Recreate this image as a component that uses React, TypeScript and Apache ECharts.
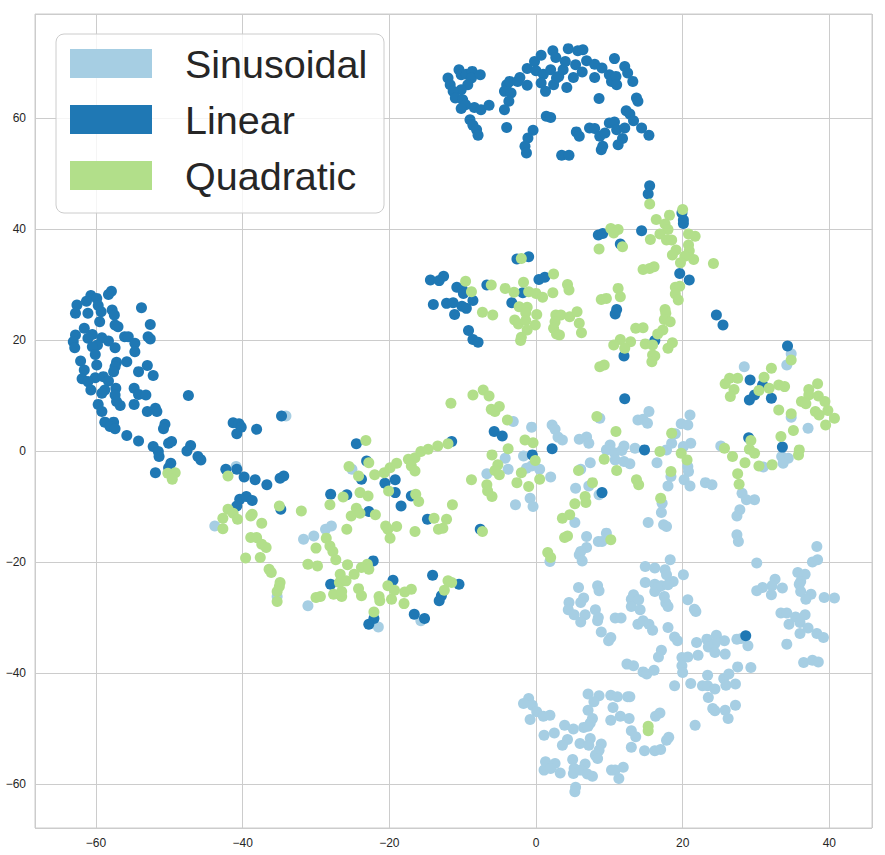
import React, { useEffect, useRef } from "react";
import * as echarts from "echarts";

const seriesNames = ["Sinusoidal", "Linear", "Quadratic"];
const seriesColors = ["#a6cee3", "#1f78b4", "#b2df8a"];

const sinusoidal: number[][] = [
  [-34.1,6.3],[-40.9,-2.8],[-43.8,-13.5],[-31.7,-15.9],[-30.3,-15.3],[-28.7,-14.1],[-27.9,-13.5],[-35.3,-26.2],[-31.1,-27.9],
  [-25.1,-3.3],[-15.7,-30.6],[-21.5,-31.7],
  [-3.1,5.3],[-0.6,4.3],[2.2,4.7],[2.6,3.9],[3.0,2.5],[3.6,2.0],[5.9,2.1],[6.9,2.5],[7.2,1.4],[-4.2,-1.3],[-1.7,-0.9],[-3.8,-3.3],[-6.7,-4.1],[-1.3,-3.1],[-0.6,-2.7],[0.5,-3.3],[2.0,-4.7],[5.4,-6.7],[6.1,-3.3],[7.4,-2.1],[8.7,5.9],[10.1,1.1],[9.6,0.2],[10.7,-0.3],[11.7,0.1],[12.0,0.9],[10.8,-1.6],[12.0,-1.9],[12.8,-2.3],[13.5,0.5],[13.9,5.6],[14.6,5.7],[15.2,5.0],[15.4,7.1],[16.5,-2.1],[17.8,0.2],[18.5,1.4],[18.4,-4.6],[18.0,-6.3],[7.2,-6.3],[8.6,-7.9],[-0.8,-8.5],
  [34.8,17.5],[34.2,15.5],[28.4,15.2],[34.8,6.1],[37.1,4.1],[21.0,6.5],[19.8,4.9],[20.7,4.7],[19.0,3.1],[21.1,1.4],[20.1,0.8],[25.2,0.9],[31.0,-2.9],[33.5,-1.0],[34.4,-1.3],[33.7,-2.2],[20.7,-2.8],[20.8,-3.7],[20.2,-5.2],[21.0,-6.3],[23.1,-5.7],[24.0,-6.1],[28.1,-7.6],[29.8,-8.8],[28.7,-8.8],
  [-2.8,-9.7],[-0.4,-10.0],[5.3,-12.9],[6.9,-15.4],[9.6,-14.8],[8.5,-16.3],[9.0,-16.3],[6.9,-17.4],[6.1,-18.1],[5.9,-18.7],[6.3,-19.8],[1.9,-19.9],[17.2,-9.4],[17.1,-11.1],[15.3,-12.9],[17.4,-13.3],[17.8,-13.6],[18.3,-19.6],[14.9,-20.8],[16.2,-21.1],[17.6,-21.4],[17.8,-22.3],[18.7,-23.5],[14.9,-23.7],[16.2,-24.0],[16.6,-24.6],[16.2,-25.3],[17.1,-24.3],[18.0,-24.1],[5.8,-24.6],[8.4,-24.3],[8.6,-25.2],[6.5,-26.5],[6.1,-27.3],[4.5,-27.3],[4.4,-28.6],[5.2,-29.5],[6.7,-29.5],[8.1,-28.6],[8.5,-30.0],[8.4,-30.6],[6.1,-30.8],[10.8,-30.1],[11.6,-30.1],[8.9,-32.6],[10.2,-33.6],[9.9,-34.2],[13.0,-26.7],[13.3,-25.9],[14.0,-26.8],[13.0,-28.0],[14.2,-28.6],[17.5,-26.2],[17.7,-27.4],[18.0,-28.0],[13.9,-31.2],[14.6,-30.6],[15.4,-31.2],[15.9,-32.3],[18.0,-31.8],[18.9,-33.5],[17.1,-35.9],
  [27.8,-10.6],[27.4,-11.7],[27.4,-15.1],[27.6,-16.3],[30.1,-20.2],[38.3,-17.2],[37.7,-20.0],[38.4,-19.6],[20.1,-22.3],[32.6,-23.1],[32.2,-24.3],[33.6,-24.7],[30.9,-24.6],[30.1,-25.2],[32.1,-25.9],[35.7,-21.9],[36.7,-22.2],[36.1,-23.5],[35.9,-24.0],[36.1,-25.3],[37.5,-25.8],[36.8,-26.7],[39.3,-26.4],[40.7,-26.5],[20.7,-26.8],[21.6,-28.5],[21.8,-28.9],[33.4,-29.2],[34.2,-29.2],[35.4,-29.9],[36.7,-29.5],[36.0,-30.9],[34.5,-31.2],[37.1,-31.9],[36.0,-32.9],[38.3,-32.9],[39.2,-33.6],[19.3,-34.2],[21.9,-34.5],[23.3,-33.9],[24.6,-33.2],[25.7,-34.2],[24.4,-34.7],[23.5,-35.3],[27.4,-33.9],[28.0,-33.8],[28.9,-35.1],[34.2,-34.8],
  [16.7,-37.1],[12.4,-38.4],[13.3,-38.7],[14.6,-39.8],[15.1,-40.2],[16.1,-39.5],[18.9,-42.3],[7.1,-43.8],[8.6,-44.1],[7.9,-45.2],[10.2,-44.0],[11.1,-44.3],[12.5,-44.3],[12.8,-44.3],[-1.0,-44.6],[-1.7,-45.5],[-0.5,-45.8],[0.1,-47.0],[1.0,-47.8],[1.9,-47.6],[-0.8,-48.4],[7.1,-46.7],[7.7,-48.2],[7.4,-49.0],[10.5,-46.2],[11.5,-47.8],[10.2,-48.5],[12.7,-48.2],[16.3,-47.8],[16.9,-47.2],[3.9,-49.4],[5.1,-50.1],[6.5,-49.8],[7.1,-49.6],[2.5,-50.8],[1.1,-51.2],[4.3,-52.0],[3.6,-53.0],[6.0,-52.7],[7.4,-51.8],[7.2,-53.0],[13.0,-50.4],[13.6,-51.5],[8.9,-52.8],[8.6,-53.9],[8.1,-54.8],[8.4,-55.4],[13.0,-53.4],[14.8,-54.0],[16.2,-54.0],[17.0,-53.8],[17.8,-52.1],[18.1,-51.6],[1.3,-56.0],[2.6,-56.3],[1.1,-57.5],[2.0,-57.2],[3.3,-58.0],[5.0,-55.6],[5.2,-57.2],[5.1,-58.1],[6.7,-56.4],[6.1,-57.5],[7.0,-58.2],[7.7,-58.6],[10.3,-57.5],[10.8,-57.5],[11.9,-57.0],[11.3,-59.0],[5.4,-60.6],[5.3,-61.4],
  [19.9,-37.2],[20.7,-37.1],[22.1,-36.8],[24.4,-36.3],[25.8,-36.6],[19.9,-38.7],[20.0,-39.9],[21.1,-41.9],[23.4,-40.4],[22.7,-42.3],[23.4,-42.3],[24.4,-42.9],[25.6,-41.0],[26.3,-40.2],[25.9,-42.2],[27.2,-42.0],[27.5,-38.9],[29.3,-39.0],[23.5,-44.4],[24.1,-46.4],[24.4,-46.8],[25.8,-46.7],[27.2,-45.8],[26.2,-48.2],[21.7,-49.4],[36.5,-38.1],[37.7,-37.7],[38.5,-38.0],
];

const linear: number[][] = [
  [-12.0,67.2],[-11.7,66.0],[-10.5,68.7],[-10.2,67.8],[-9.5,67.9],[-8.7,68.4],[-8.8,67.2],[-7.6,67.8],[-9.3,66.0],[-10.2,65.1],[-11.3,64.8],[-11.0,63.6],[-10.0,63.3],[-9.6,62.4],[-10.2,61.7],[-8.4,61.9],[-7.5,61.5],[-6.4,62.3],[-9.0,59.7],[-8.6,58.7],[-8.1,57.9],[-7.9,56.9],
  [-4.0,66.0],[-4.3,64.8],[-3.6,66.6],[-3.4,64.5],[-3.7,63.0],[-4.3,61.5],[-2.2,67.3],[-2.5,66.6],[-1.2,65.9],[-1.2,68.9],[-0.2,70.2],[0.7,71.3],[0.0,68.5],[1.0,67.9],[0.7,66.3],[1.3,64.8],[2.0,68.7],[2.3,72.1],[2.7,70.9],[2.4,66.0],[2.8,67.2],[3.1,67.5],[3.7,68.7],[4.0,70.2],[4.4,72.5],[4.2,65.5],[5.4,69.6],[5.1,67.3],[5.7,72.1],[6.4,72.3],[6.3,68.3],[6.9,70.3],[8.0,69.7],[8.0,67.3],[9.0,69.0],[10.0,67.8],[10.3,66.6],[10.9,67.5],[11.0,66.0],[10.7,70.7],[12.1,69.3],[12.5,68.1],[13.2,66.6],[13.7,63.6],[13.9,63.0],[8.6,63.5],[1.4,60.3],[2.0,60.1],[-4.0,58.3],[-0.4,57.8],[-1.1,56.4],[-1.5,54.9],[-1.3,53.7],[3.5,53.3],[4.5,53.3],[5.5,57.5],[5.9,56.7],[7.3,58.2],[8.0,58.1],[8.7,56.7],[9.4,57.3],[10.0,59.1],[10.7,59.3],[11.0,57.9],[12.1,58.2],[12.3,61.3],[12.8,60.7],[13.3,59.5],[14.4,58.2],[15.4,56.9],[11.8,56.3],[11.2,55.2],[8.9,54.3],[9.1,54.9],
  [-57.9,28.8],[-58.3,28.2],[-60.7,28.0],[-59.9,27.5],[-61.3,27.0],[-62.6,26.3],[-59.7,26.2],[-62.8,24.8],[-61.1,24.8],[-59.3,25.1],[-57.8,25.4],[-57.5,24.5],[-53.8,25.8],[-59.5,23.3],[-61.6,22.1],[-57.4,22.7],[-57.0,22.4],[-52.6,22.8],[-60.5,21.0],[-61.1,20.3],[-62.8,20.9],[-63.1,19.7],[-62.9,18.6],[-59.2,20.4],[-58.3,19.8],[-59.8,19.1],[-60.5,18.8],[-57.4,18.6],[-56.1,20.6],[-55.6,20.6],[-54.7,19.4],[-52.9,20.6],[-52.6,20.2],[-54.7,17.9],[-60.1,17.4],[-62.1,16.2],[-59.9,15.5],[-57.2,16.0],[-57.4,15.2],[-55.8,16.1],[-57.6,14.3],[-54.2,14.3],[-53.0,15.4],[-52.2,13.6],[-61.6,14.6],[-61.9,13.0],[-60.1,13.2],[-61.1,12.5],[-59.0,13.4],[-58.3,12.6],[-60.7,11.0],[-58.8,11.0],[-59.2,10.4],[-57.3,11.3],[-57.4,10.1],[-54.8,11.3],[-54.2,10.2],[-53.2,10.1],[-57.2,8.9],[-56.7,8.2],[-59.7,8.4],[-59.2,7.1],[-54.8,8.4],[-53.0,7.1],[-51.9,7.7],[-51.7,7.1],[-47.4,10.0],[-58.8,5.2],[-57.6,5.2],[-58.1,4.4],[-57.4,4.0],[-55.8,2.8],[-54.2,1.8],[-50.6,4.8],[-50.8,4.0],[-50.1,1.4],[-49.7,1.7],[-47.1,1.0],[-47.6,0.0],[-52.2,0.8],[-51.5,-0.1],[-51.4,-1.0],[-46.1,-1.0],[-45.7,-1.6],[-49.8,-2.2],[-50.1,-3.0],[-51.9,-3.9],
  [-34.7,6.3],[-41.3,5.1],[-40.5,4.9],[-40.2,4.3],[-40.8,3.1],[-38.1,3.9],[-42.3,-3.3],[-40.8,-3.3],[-39.8,-4.7],[-38.3,-5.2],[-36.7,-6.1],[-34.9,-4.9],[-34.4,-4.5],[-40.4,-8.7],[-39.5,-8.2],[-38.7,-8.9],[-40.8,-9.9],[-34.8,-10.5],[-28.0,-7.8],[-28.0,-24.0],
  [-24.5,1.3],[-11.5,1.7],[-23.1,-1.8],[-23.8,-5.1],[-20.6,-5.8],[-19.2,-5.2],[-19.2,-7.5],[-17.0,-8.1],[-18.4,-9.9],[-25.8,-7.9],[-22.8,-10.9],[-14.8,-12.3],[-22.2,-19.8],[-19.5,-23.3],[-14.1,-22.4],[-10.5,-24.0],[-12.9,-26.1],[-13.2,-27.0],[-16.6,-29.4],[-15.2,-30.2],[-22.1,-30.2],[-22.8,-31.2],
  [8.5,38.9],[9.1,39.2],[-2.6,34.6],[-1.0,35.0],[-14.4,30.8],[-13.2,30.7],[-12.6,31.5],[-10.8,29.5],[-10.0,29.0],[-9.9,28.4],[-6.7,29.9],[-14.0,26.4],[-12.2,26.6],[-11.3,26.7],[-10.1,26.1],[-9.5,25.7],[-8.6,27.1],[-11.1,24.6],[-1.8,28.5],[-3.3,26.7],[0.4,30.9],[1.2,31.3],[-9.2,21.7],[-8.6,20.1],[-7.9,19.6],
  [15.5,47.8],[15.3,46.3],[11.5,37.3],[14.4,39.7],[19.9,42.9],[20.1,41.6],[20.1,41.0],[19.6,32.0],[20.9,30.8],[11.0,25.5],[10.8,24.7],[24.6,24.5],[25.5,22.7],[16.2,19.9],[12.0,17.1],
  [12.1,9.4],[-5.7,3.5],[-4.6,2.7],[-0.5,-0.7],[2.2,0.4],[14.8,0.2],[9.0,-7.5],
  [34.3,18.9],[29.2,12.8],[30.9,11.9],[29.8,10.1],[29.1,9.2],[32.1,9.5],[29.0,2.4],[33.6,0.7],
  [-7.6,-14.1],[28.6,-33.3],
];

const quadratic: number[][] = [
  [-50.2,-4.0],[-49.2,-3.9],[-49.6,-5.1],
  [-42.0,-4.5],[-42.0,-10.5],[-42.7,-12.1],[-41.3,-11.2],[-40.7,-12.3],[-38.9,-11.7],[-38.7,-11.4],[-37.4,-13.0],[-42.7,-14.0],[-35.0,-9.9],[-32.0,-10.8],[-28.1,-9.7],[-26.3,-8.3],[-38.9,-15.6],[-38.1,-15.6],[-37.4,-16.8],[-36.8,-17.4],[-39.6,-19.3],[-37.6,-19.2],[-30.0,-17.5],[-28.6,-15.7],[-28.1,-17.1],[-27.7,-18.1],[-27.3,-19.6],[-31.1,-20.4],[-29.8,-20.7],[-36.4,-21.3],[-36.1,-21.9],[-34.9,-23.7],[-35.0,-24.4],[-35.3,-25.3],[-35.3,-27.1],[-30.0,-26.4],[-29.4,-26.2],[-27.6,-25.8],[-26.5,-26.2],[-26.5,-25.3],[-26.8,-23.7],[-26.7,-22.2],
  [-8.6,10.1],[-11.6,8.6],[-23.2,1.9],[-25.5,-2.8],[-24.2,-4.5],[-22.8,-2.1],[-22.0,-4.3],[-20.7,-3.9],[-19.9,-3.0],[-19.0,-2.2],[-17.4,-1.5],[-16.5,-1.2],[-15.7,-0.1],[-14.7,0.3],[-13.4,0.9],[-12.0,1.3],[-17.0,-2.7],[-16.5,-3.6],[-16.4,-7.8],[-16.0,-9.1],[-20.1,-7.2],[-24.0,-7.5],[-22.9,-8.1],[-24.5,-10.3],[-25.2,-11.7],[-24.0,-11.2],[-21.9,-11.5],[-20.5,-13.5],[-20.2,-14.1],[-19.0,-13.6],[-19.9,-15.7],[-16.5,-14.5],[-13.9,-12.1],[-13.3,-14.1],[-12.7,-13.9],[-12.2,-12.3],[-11.4,-9.7],[-8.8,-5.2],[-25.8,-14.1],[-25.7,-20.5],[-24.8,-22.2],[-23.8,-21.0],[-23.0,-20.4],[-22.8,-21.3],[-25.9,-23.4],[-24.2,-24.8],[-23.8,-26.1],[-21.4,-26.2],[-21.3,-27.0],[-19.7,-26.7],[-18.0,-27.5],[-20.2,-24.3],[-19.3,-25.1],[-17.9,-25.4],[-17.0,-24.9],[-12.5,-25.1],[-12.0,-23.4],[-11.5,-23.7],[-22.1,-29.0],
  [8.6,36.4],[-2.0,34.7],[-9.6,30.6],[-8.8,28.7],[-6.1,29.9],[-4.2,29.3],[-1.7,30.4],[-3.0,28.6],[-1.0,28.7],[0.0,28.4],[0.9,27.7],[2.4,31.9],[2.3,28.5],[4.3,30.0],[4.5,29.0],[8.9,27.3],[9.6,27.5],[-7.3,25.0],[-5.9,24.5],[-2.3,26.0],[-1.2,25.9],[-1.4,24.9],[-2.9,23.6],[-2.4,22.9],[-1.4,23.5],[-0.1,22.7],[0.1,24.6],[-1.2,21.8],[-2.0,20.5],[-2.1,19.9],[2.7,24.5],[3.4,24.5],[2.6,23.3],[2.4,22.1],[2.8,21.1],[3.2,20.9],[4.6,24.2],[5.6,25.1],[5.9,23.0],[6.2,21.3],[8.7,15.2],[9.3,15.5],[-7.2,11.0],[-6.4,9.9],
  [15.5,44.5],[20.0,43.5],[18.2,42.5],[16.4,41.7],[17.6,40.9],[18.0,39.9],[10.2,40.1],[11.2,39.9],[10.6,39.3],[16.9,39.1],[15.6,38.1],[17.8,38.0],[18.5,38.0],[20.8,39.1],[21.7,38.7],[11.8,36.8],[19.1,36.2],[18.6,35.3],[20.8,37.1],[20.9,36.1],[20.3,35.1],[21.5,34.5],[19.7,33.9],[24.2,33.8],[14.6,32.7],[15.5,32.9],[16.1,33.2],[11.2,29.3],[11.5,27.8],[19.0,29.5],[19.6,29.7],[19.0,28.3],[19.4,27.2],[17.6,25.5],[17.7,24.8],[17.5,23.7],[18.3,23.3],[13.6,22.1],[14.6,22.2],[17.3,21.8],[16.6,21.1],[11.5,20.1],[10.6,19.1],[12.9,19.7],[14.9,19.3],[15.9,19.1],[18.6,19.5],[18.0,18.5],[12.1,18.5],[15.9,17.3],[16.2,17.1],[15.8,16.1],[26.4,13.1],[27.5,13.1],
  [-6.1,7.5],[-5.6,7.1],[-5.0,8.0],[-3.9,5.6],[-1.5,2.0],[-0.4,1.5],[-3.8,0.4],[-6.0,-0.7],[-0.1,-1.7],[-5.2,-2.5],[-5.6,-3.5],[-5.0,-4.3],[-2.0,-3.9],[-2.6,-5.7],[-1.0,-6.4],[0.5,-5.1],[-6.7,-6.1],[-6.6,-7.2],[-6.0,-8.2],[8.3,6.2],[10.9,3.5],[18.5,3.2],[9.3,-1.5],[11.0,-3.5],[5.8,-3.5],[7.7,-5.7],[6.7,-8.2],[13.7,-5.2],[14.0,-6.1],[16.9,-0.1],[18.4,-3.7],[17.0,-8.5],
  [34.8,16.4],[32.1,14.9],[31.1,13.3],[25.8,12.1],[27.0,11.1],[26.5,9.8],[30.4,10.9],[31.8,11.3],[33.1,11.9],[33.9,11.6],[33.1,7.4],[34.8,6.7],[38.4,12.1],[37.2,11.1],[37.2,10.1],[38.5,9.9],[36.2,8.9],[36.8,8.5],[39.4,8.9],[38.1,7.1],[38.6,6.5],[39.8,7.3],[40.7,5.9],[39.5,4.7],[35.1,3.7],[33.4,2.6],[29.3,1.9],[29.1,0.3],[29.8,-0.4],[25.7,0.5],[26.8,-1.0],[28.5,-2.1],[30.4,-2.7],[32.2,-2.5],[35.9,0.2],[35.8,-0.7],[27.5,-4.1],[27.7,-6.0],[19.8,-0.4],[20.6,-1.6],
  [5.3,-9.5],[6.8,-9.3],[3.6,-12.1],[4.6,-11.5],[3.9,-15.6],[4.3,-15.3],[1.6,-18.3],[2.0,-19.2],[10.2,-16.0],[-7.3,-14.5],
  [15.3,-49.6],[15.3,-50.4],
];

const xRange = [-68.32, 45.82];
const yRange = [-67.93, 78.74];

const FONT = "'Liberation Sans', Arial, 'DejaVu Sans', sans-serif";

function fmt(v: number): string {
  return v < 0 ? "\u2212" + Math.abs(v) : String(v);
}

export default function App() {
  const ref = useRef<HTMLDivElement>(null);
  useEffect(() => {
    if (!ref.current) return;
    document.body.style.margin = "0";
    const chart = echarts.init(ref.current, undefined, { renderer: "svg" });
    const datasets = [sinusoidal, linear, quadratic];
    const legendItems: any[] = [
      {
        type: "rect",
        shape: { x: 56, y: 34, width: 328, height: 179, r: 8 },
        style: { fill: "rgba(255,255,255,0.8)", stroke: "#cccccc", lineWidth: 1 },
        z: 100,
      },
    ];
    seriesNames.forEach((name, i) => {
      const cy = 63.5 + i * 56;
      legendItems.push({
        type: "rect",
        shape: { x: 70, y: cy - 14.5, width: 82, height: 29 },
        style: { fill: seriesColors[i] },
        z: 101,
      });
      legendItems.push({
        type: "text",
        x: 185,
        y: cy,
        style: {
          text: name,
          fontSize: 39.5,
          fontFamily: FONT,
          fill: "#262626",
          align: "left",
          verticalAlign: "middle",
        },
        z: 101,
      });
    });
    chart.setOption({
      animation: false,
      backgroundColor: "#ffffff",
      grid: {
        left: 35,
        top: 14,
        width: 837,
        height: 814,
        show: true,
        borderColor: "#cccccc",
        borderWidth: 1,
        backgroundColor: "transparent",
        containLabel: false,
        outerBoundsMode: "none",
      },
      xAxis: {
        type: "value",
        min: xRange[0],
        max: xRange[1],
        splitNumber: 5,
        axisLine: { show: false },
        axisTick: { show: false },
        axisLabel: {
          showMinLabel: false,
          showMaxLabel: false,
          margin: 9,
          color: "#262626",
          fontSize: 12,
          fontFamily: FONT,
          formatter: fmt,
        },
        splitLine: { show: true, lineStyle: { color: "#cccccc", width: 1 } },
      },
      yAxis: {
        type: "value",
        min: yRange[0],
        max: yRange[1],
        splitNumber: 7,
        axisLine: { show: false },
        axisTick: { show: false },
        axisLabel: {
          showMinLabel: false,
          showMaxLabel: false,
          margin: 9,
          color: "#262626",
          fontSize: 12,
          fontFamily: FONT,
          formatter: fmt,
        },
        splitLine: { show: true, lineStyle: { color: "#cccccc", width: 1 } },
      },
      series: seriesNames.map((name, i) => ({
        name,
        type: "scatter",
        data: datasets[i],
        symbol: "circle",
        symbolSize: 11,
        itemStyle: { color: seriesColors[i], opacity: 1 },
        emphasis: { disabled: true },
        z: 2 + i,
      })),
      graphic: legendItems,
    });
    return () => chart.dispose();
  }, []);
  return <div ref={ref} style={{ width: 885, height: 855 }} />;
}
